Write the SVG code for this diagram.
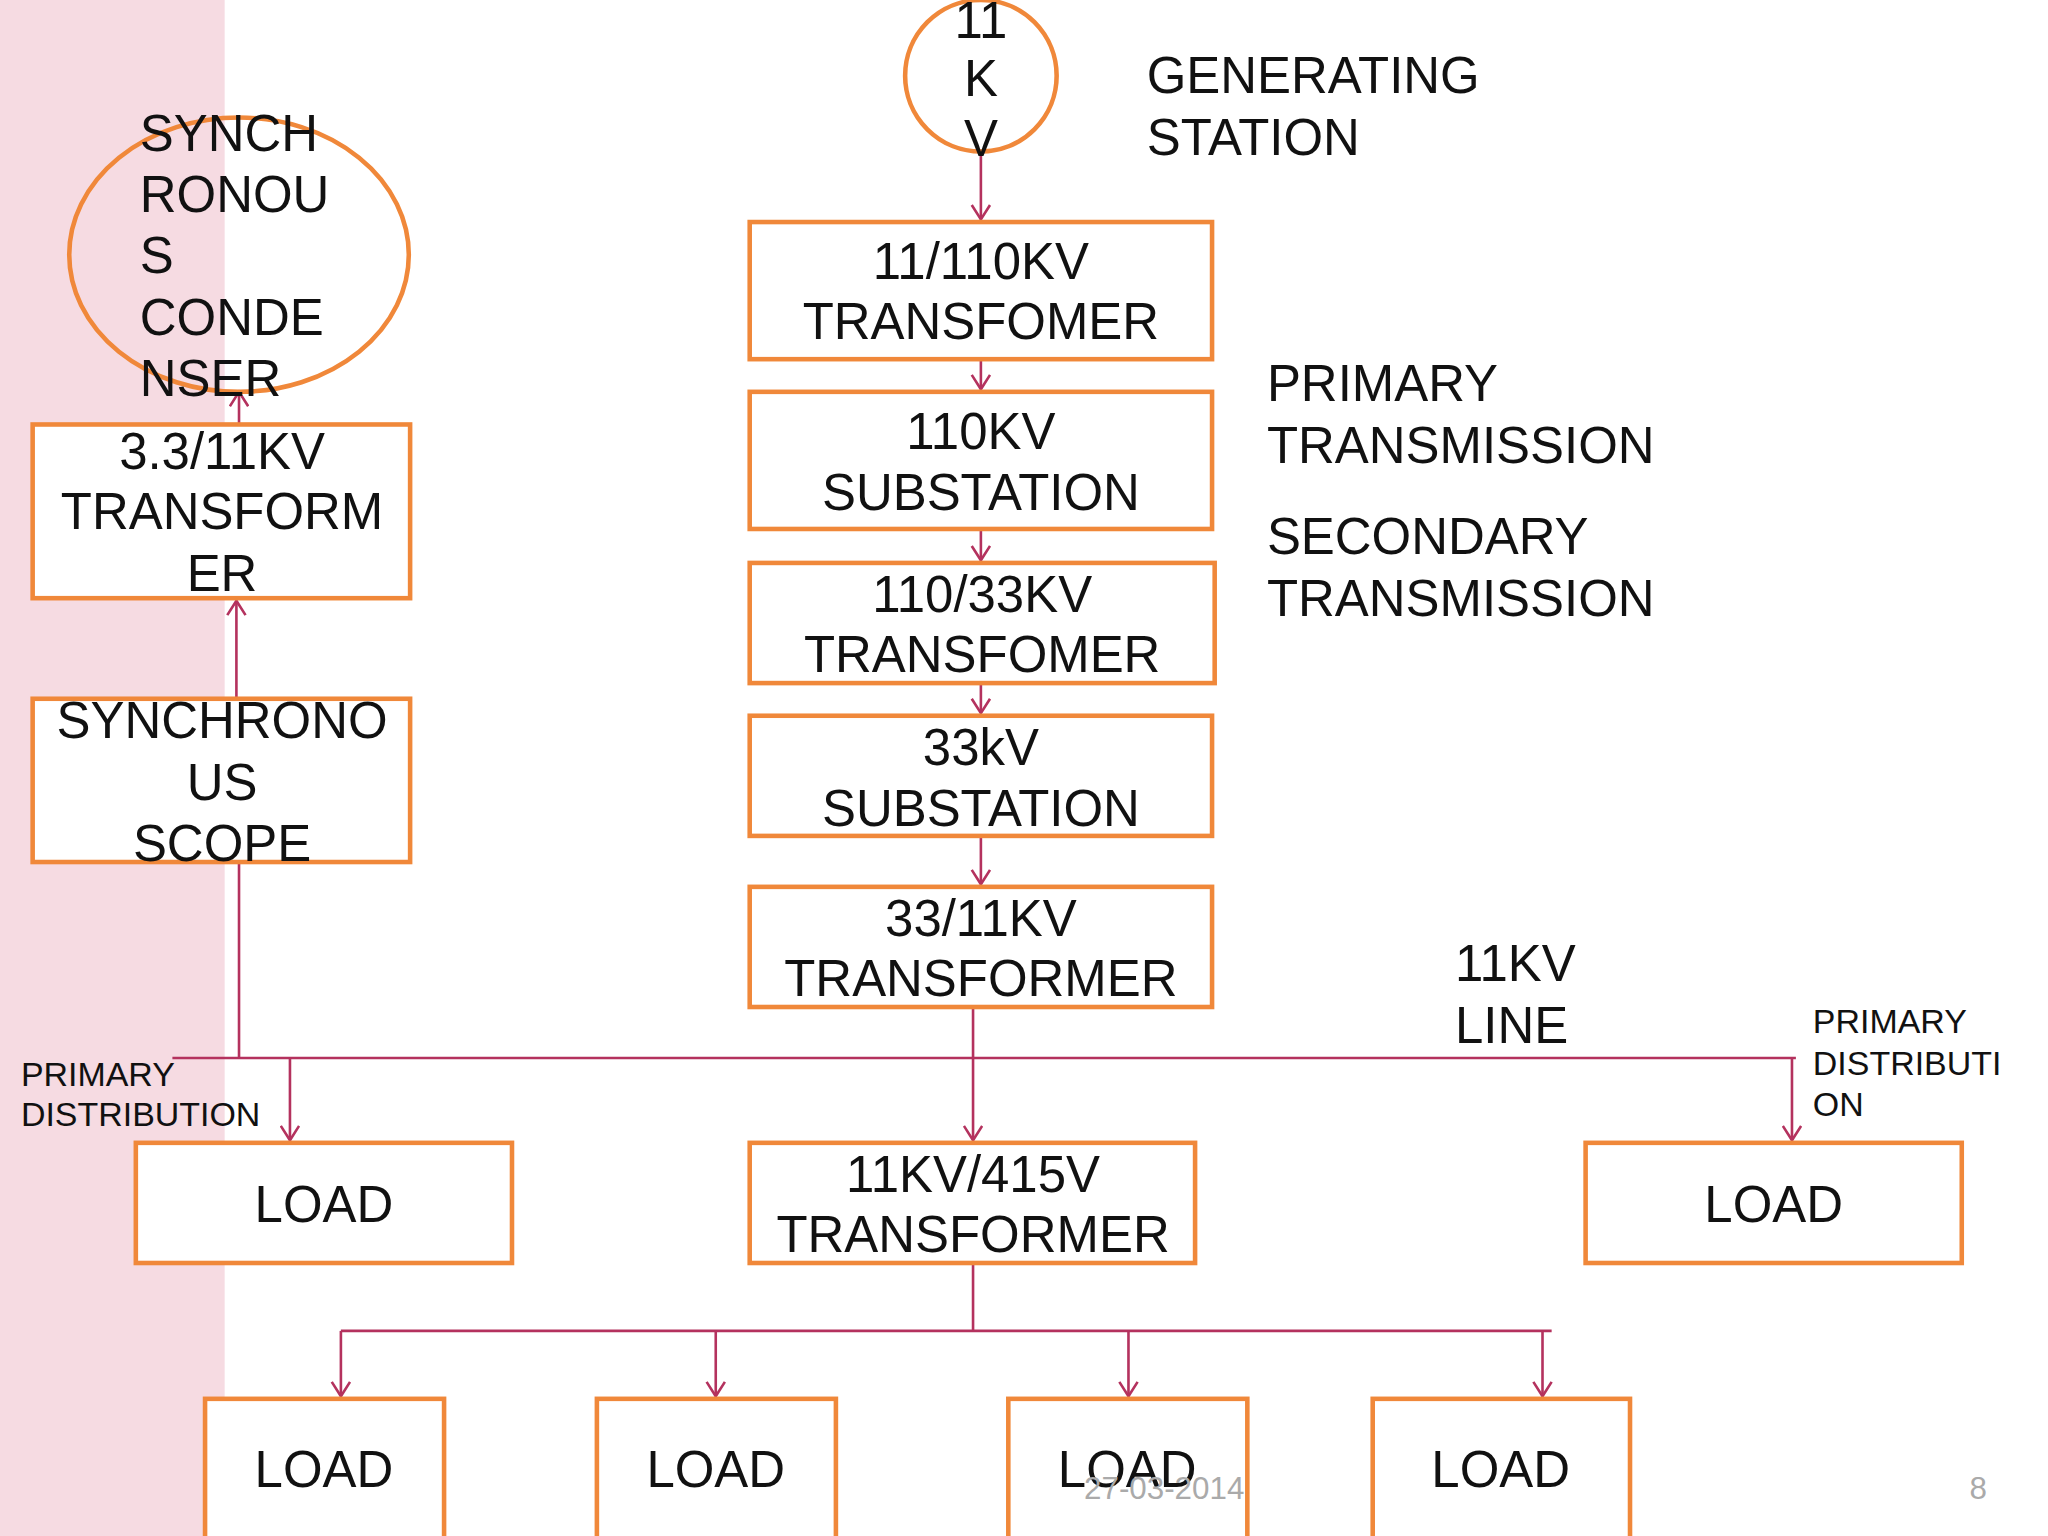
<svg xmlns="http://www.w3.org/2000/svg" width="2048" height="1536" viewBox="0 0 2048 1536">
<style>
.b{fill:#fff;stroke:#f0883a;stroke-width:3.5}
.c{stroke:#b4325e;stroke-width:2;fill:none}
text{font-family:"Liberation Sans",Arial,sans-serif;fill:#111;dominant-baseline:central}
.t{font-size:39px}
.m{text-anchor:middle}
.s{font-size:26px}
</style>
<defs>
<marker id="v" markerWidth="16" markerHeight="16" refX="14" refY="8" orient="auto" markerUnits="userSpaceOnUse" viewBox="0 0 16 16"><path d="M3,1 L14,8 L3,15" fill="none" stroke="#b4325e" stroke-width="2"/></marker>
</defs>
<rect width="2048" height="1536" fill="#fff"/>
<g transform="scale(1.3061)">
<rect x="0" y="0" width="172" height="1176" fill="#f6dbe2"/>
<g id="connectors">
<line class="c" x1="751" y1="118" x2="751" y2="168" marker-end="url(#v)"/>
<line class="c" x1="751" y1="275" x2="751" y2="298" marker-end="url(#v)"/>
<line class="c" x1="751" y1="405" x2="751" y2="429" marker-end="url(#v)"/>
<line class="c" x1="751" y1="523" x2="751" y2="546" marker-end="url(#v)"/>
<line class="c" x1="751" y1="640" x2="751" y2="677" marker-end="url(#v)"/>
<line class="c" x1="745" y1="771" x2="745" y2="873" marker-end="url(#v)"/>
<line class="c" x1="132" y1="810" x2="1375" y2="810"/>
<line class="c" x1="222" y1="810" x2="222" y2="873" marker-end="url(#v)"/>
<line class="c" x1="1372" y1="810" x2="1372" y2="873" marker-end="url(#v)"/>
<line class="c" x1="183" y1="810" x2="183" y2="643" marker-end="url(#v)"/>
<line class="c" x1="181" y1="535" x2="181" y2="460" marker-end="url(#v)"/>
<line class="c" x1="183" y1="325" x2="183" y2="300" marker-end="url(#v)"/>
<line class="c" x1="745" y1="967" x2="745" y2="1019"/>
<line class="c" x1="261" y1="1019" x2="1188" y2="1019"/>
<line class="c" x1="261" y1="1019" x2="261" y2="1069" marker-end="url(#v)"/>
<line class="c" x1="548" y1="1019" x2="548" y2="1069" marker-end="url(#v)"/>
<line class="c" x1="864" y1="1019" x2="864" y2="1069" marker-end="url(#v)"/>
<line class="c" x1="1181" y1="1019" x2="1181" y2="1069" marker-end="url(#v)"/>
</g>
<g id="gen"><circle class="b" cx="751" cy="58" r="58" style="fill:none"/>
<text class="t m" x="751" y="16">11</text><text class="t m" x="751" y="60">K</text><text class="t m" x="751" y="106">V</text></g>
<g id="syncond"><ellipse class="b" cx="183" cy="195" rx="130" ry="105" style="fill:none"/>
<text class="t" x="107" y="102">SYNCH</text><text class="t" x="107" y="149">RONOU</text><text class="t" x="107" y="196">S</text><text class="t" x="107" y="243">CONDE</text><text class="t" x="107" y="290">NSER</text></g>
<g id="t1"><rect class="b" x="574" y="170" width="354" height="105"/><text class="t m" x="751" y="200">11/110KV</text><text class="t m" x="751" y="246">TRANSFOMER</text></g>
<g id="s110"><rect class="b" x="574" y="300" width="354" height="105"/><text class="t m" x="751" y="330">110KV</text><text class="t m" x="751" y="377">SUBSTATION</text></g>
<g id="t2"><rect class="b" x="574" y="431" width="356" height="92"/><text class="t m" x="752" y="455">110/33KV</text><text class="t m" x="752" y="501">TRANSFOMER</text></g>
<g id="s33"><rect class="b" x="574" y="548" width="354" height="92"/><text class="t m" x="751" y="572">33kV</text><text class="t m" x="751" y="619">SUBSTATION</text></g>
<g id="t3"><rect class="b" x="574" y="679" width="354" height="92"/><text class="t m" x="751" y="703">33/11KV</text><text class="t m" x="751" y="749">TRANSFORMER</text></g>
<g id="t4"><rect class="b" x="574" y="875" width="341" height="92"/><text class="t m" x="745" y="899">11KV/415V</text><text class="t m" x="745" y="945">TRANSFORMER</text></g>
<g id="t33"><rect class="b" x="25" y="325" width="289" height="133"/><text class="t m" x="170" y="346">3.3/11KV</text><text class="t m" x="170" y="392">TRANSFORM</text><text class="t m" x="170" y="439">ER</text></g>
<g id="scope"><rect class="b" x="25" y="535" width="289" height="125"/><text class="t m" x="170" y="552">SYNCHRONO</text><text class="t m" x="170" y="599">US</text><text class="t m" x="170" y="646">SCOPE</text></g>
<g id="l1"><rect class="b" x="104" y="875" width="288" height="92"/><text class="t m" x="248" y="922">LOAD</text></g>
<g id="l2"><rect class="b" x="1214" y="875" width="288" height="92"/><text class="t m" x="1358" y="922">LOAD</text></g>
<g id="l3"><rect class="b" x="157" y="1071" width="183" height="120"/><text class="t m" x="248" y="1125">LOAD</text></g>
<g id="l4"><rect class="b" x="457" y="1071" width="183" height="120"/><text class="t m" x="548" y="1125">LOAD</text></g>
<g id="l5"><rect class="b" x="772" y="1071" width="183" height="120"/><text class="t m" x="863" y="1125">LOAD</text></g>
<g id="l6"><rect class="b" x="1051" y="1071" width="197" height="120"/><text class="t m" x="1149" y="1125">LOAD</text></g>
<g id="labels">
<text class="t" x="878" y="58">GENERATING</text><text class="t" x="878" y="105">STATION</text>
<text class="t" x="970" y="294">PRIMARY</text><text class="t" x="970" y="341">TRANSMISSION</text>
<text class="t" x="970" y="411">SECONDARY</text><text class="t" x="970" y="458">TRANSMISSION</text>
<text class="t" x="1114" y="738">11KV</text><text class="t" x="1114" y="785">LINE</text>
<text class="s" x="1388" y="782">PRIMARY</text><text class="s" x="1388" y="814">DISTRIBUTI</text><text class="s" x="1388" y="845">ON</text>
<text class="s" x="16" y="822">PRIMARY</text><text class="s" x="16" y="853">DISTRIBUTION</text>
<text x="830" y="1140" style="font-size:24px;fill:#aaa">27-03-2014</text>
<text x="1508" y="1140" style="font-size:24px;fill:#aaa">8</text>
</g>
</g>
</svg>
